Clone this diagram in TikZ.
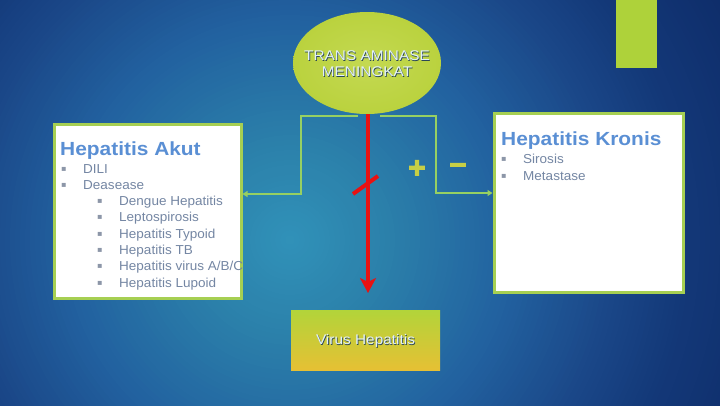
\documentclass[tikz,border=0pt]{standalone}
\usepackage{fontspec}
\setmainfont{Liberation Sans}[FakeStretch=1.04]
\newfontfamily\headfont{Liberation Sans}[FakeStretch=1.1]
\newfontfamily\embfont{Liberation Sans}[FakeStretch=1.1]
\newfontfamily\pmfont{Liberation Sans}[FakeBold=3]
\newfontfamily\symfont{DejaVu Sans}
\usetikzlibrary{shapes.geometric,arrows.meta,calc}
\definecolor{bgA}{HTML}{3192B9}
\definecolor{bgB}{HTML}{2B80AA}
\definecolor{bgC}{HTML}{2262A0}
\definecolor{bgD}{HTML}{1A4687}
\definecolor{bgE}{HTML}{133878}
\definecolor{bgF}{HTML}{0E2D6A}
\definecolor{boxgreen}{HTML}{A6CF52}
\definecolor{conngreen}{HTML}{96D062}
\definecolor{headblue}{HTML}{5A8FD4}
\definecolor{listgrey}{HTML}{7486A3}
\definecolor{bulletgrey}{HTML}{8C96A8}
\definecolor{ellfill}{HTML}{BAD23E}
\definecolor{ellinner}{HTML}{C4D952}
\definecolor{virustop}{HTML}{B2D43A}
\definecolor{virusbot}{HTML}{E6C034}
\definecolor{accentgreen}{HTML}{AED23A}
\definecolor{pmcolor}{HTML}{C7CF45}
\definecolor{redarrow}{HTML}{E81212}
\definecolor{embtext}{HTML}{E2F1FB}
\definecolor{embshadow}{HTML}{2B4657}
\tikzset{
  infobox/.style={draw=boxgreen, line width=3pt, fill=white, inner sep=0pt},
  conn/.style={draw=conngreen, line width=2.5pt, -{Triangle[length=5pt,width=6pt]}},
  redline/.style={draw=redarrow, line width=4pt},
  heading/.style={font=\headfont\bfseries\fontsize{19}{22}\selectfont, text=headblue, inner sep=0pt, anchor=base west},
  listitem/.style={font=\fontsize{13}{16}\selectfont, text=listgrey, inner sep=0pt, anchor=base west},
  bulletmark/.style={font=\symfont\fontsize{8}{10}\selectfont, text=bulletgrey, inner sep=0pt, anchor=base west, yshift=2pt},
  embtxt/.style={font=\embfont\fontsize{14}{16}\selectfont, text=embtext, align=center, inner sep=0pt},
  embshd/.style={font=\embfont\fontsize{14}{16}\selectfont, text=embshadow, align=center, inner sep=0pt},
  pmsign/.style={font=\pmfont\bfseries\fontsize{30}{30}\selectfont, text=pmcolor, inner sep=0pt}
}
\begin{document}
\begin{tikzpicture}[x=1pt,y=-1pt]
\useasboundingbox (0,0) rectangle (720,405);
\begin{scope}
\clip (0,0) rectangle (720,405);
\fill[bgF] (0,0) rectangle (720,405);
\coordinate (bgc) at (290,240);
\foreach \r in {500,495,...,400}{\pgfmathsetmacro\p{(500-\r)}\fill[bgE!\p!bgF] (bgc) circle (\r pt);}
\foreach \r in {395,390,...,330}{\pgfmathsetmacro\p{(400-\r)/70*100}\fill[bgD!\p!bgE] (bgc) circle (\r pt);}
\foreach \r in {325,320,...,220}{\pgfmathsetmacro\p{(330-\r)/110*100}\fill[bgC!\p!bgD] (bgc) circle (\r pt);}
\foreach \r in {215,210,...,100}{\pgfmathsetmacro\p{(220-\r)/120*100}\fill[bgB!\p!bgC] (bgc) circle (\r pt);}
\foreach \r in {95,90,...,5}{\pgfmathsetmacro\p{(100-\r)}\fill[bgA!\p!bgB] (bgc) circle (\r pt);}
\end{scope}
% accent bar
\fill[accentgreen] (616,0) rectangle (657,68);
% ellipse
\node[ellipse, minimum width=148pt, minimum height=102pt, inner sep=0pt, inner color=ellinner, outer color=ellfill] (ell) at (367,63) {};
\node[embshd] (ellshd) at (367.8,64.8) {TRANS AMINASE\\MENINGKAT};
\node[embtxt] (elltxt) at (367,64) {TRANS AMINASE\\MENINGKAT};
% boxes
\node[infobox, minimum width=187pt, minimum height=174pt] (akut) at (147.5,211) {};
\node[infobox, minimum width=189pt, minimum height=179pt] (kronis) at (588.5,202.5) {};
\node[inner sep=0pt, minimum width=149pt, minimum height=60pt, top color=virustop, bottom color=virusbot] (virus) at (365.5,340) {};
\node[embshd] (virusshd) at (366.3,341.8) {Virus Hepatitis};
\node[embtxt] (virustxt) at (365.5,341) {Virus Hepatitis};
% headings
\node[heading] (akuthead) at (60,155) {Hepatitis Akut};
\node[heading] (kronishead) at (501,145.7) {Hepatitis Kronis};
% Akut list
\node[bulletmark] (ab1) at (61,173) {▪};
\node[listitem] (al1) at (83,173) {DILI};
\node[bulletmark] (ab2) at (61,189.3) {▪};
\node[listitem] (al2) at (83,189.3) {Deasease};
\foreach \txt [count=\i] in {Dengue Hepatitis, Leptospirosis, Hepatitis Typoid, Hepatitis TB, Hepatitis virus A/B/C, Hepatitis Lupoid}{
  \node[bulletmark] (sb\i) at (97,189.3+16.3*\i) {▪};
  \node[listitem] (sl\i) at (119,189.3+16.3*\i) {\txt};
}
% Kronis list
\node[bulletmark] (kb1) at (501,163.6) {▪};
\node[listitem] (kl1) at (523,163.6) {Sirosis};
\node[bulletmark] (kb2) at (501,180.2) {▪};
\node[listitem] (kl2) at (523,180.2) {Metastase};
% connectors
\coordinate (lstart) at (358,116);
\coordinate (lbend) at (301,194);
\coordinate (rstart) at (380,116);
\coordinate (rbend) at (436,193);
\draw[conn] (lstart) -| (lbend) -- (lbend -| akut.east);
\draw[conn] (rstart) -| (rbend) -- (rbend -| kronis.west);
\coordinate (redend) at (368,293);
\draw[redline, -{Stealth[length=15pt,width=16pt,inset=4pt]}] (ell.south -| redend) -- (redend);
\draw[redline] (353,194) -- (378,176);
% plus / minus
\node[pmsign] (plus) at (417,169) {+};
\node[pmsign] (minus) at (458,169) {−};
\end{tikzpicture}
\end{document}
